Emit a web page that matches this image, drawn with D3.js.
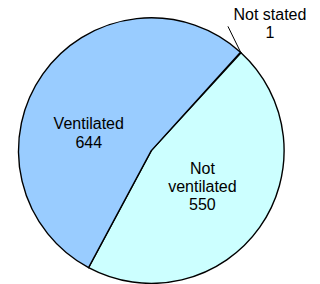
<!DOCTYPE html>
<html>
<head>
<meta charset="utf-8">
<script src="https://cdn.jsdelivr.net/npm/d3@7"></script>
<style>
  body { margin: 0; background: #fff; }
  svg { display: block; font-family: "Liberation Sans", Arial, sans-serif; }
</style>
</head>
<body>
<svg id="chart" width="320" height="284"></svg>
<script>
// data, in the order the slices run clockwise
let categories = ['Not stated', 'Not ventilated', 'Ventilated']
let values = [1, 550, 644]
let colors = ['#ffffff', '#ccffff', '#99ccff']

let cx = 151.3, cy = 150.6, radius = 132.8
let startDeg = 42.2
let rad = d => d * Math.PI / 180

// where each label sits: angle (deg clockwise from top) and radius fraction
let labelPos = {
    'Not stated': { a: 43, r: 1.31 },
    'Not ventilated': { a: 125, r: 0.47 },
    'Ventilated': { a: 286, r: 0.49 }
}

let svg = d3.select('#chart')
let g = svg.append('g').attr('transform', `translate(${cx},${cy})`)

let pie = d3.pie().sort(null).value(d => d.v)
    .startAngle(rad(startDeg)).endAngle(rad(startDeg + 360))
let arcs = pie(categories.map((c, i) => ({ c: c, v: values[i], col: colors[i] })))
let arc = d3.arc().innerRadius(0).outerRadius(radius)

g.selectAll('path.slice')
    .data(arcs)
    .join('path')
    .attr('class', 'slice')
    .attr('d', arc)
    .attr('fill', d => d.data.col)
    .attr('stroke', '#000')
    .attr('stroke-width', 1.4)
    .attr('stroke-linejoin', 'round')

let polar = (a, r) => [Math.sin(rad(a)) * r, -Math.cos(rad(a)) * r]

// leader line for the tiny slice
let tiny = arcs[0]
let mid = (tiny.startAngle + tiny.endAngle) / 2 * 180 / Math.PI
let p0 = polar(mid, radius)
let lp = polar(labelPos['Not stated'].a, radius * labelPos['Not stated'].r)
g.append('line')
    .attr('x1', p0[0]).attr('y1', p0[1])
    .attr('x2', lp[0] - 42).attr('y2', lp[1] + 3)
    .attr('stroke', '#000')
    .attr('stroke-width', 1)

let fs = 16, lh = 18.2
arcs.forEach(d => {
    let name = d.data.c
    let lines = name === 'Not ventilated' ? ['Not', 'ventilated'] : [name]
    lines.push(String(d.data.v))
    let p = polar(labelPos[name].a, radius * labelPos[name].r)
    let y0 = p[1] - (lines.length - 1) * lh / 2 + fs * 0.36
    let t = g.append('text')
        .attr('text-anchor', 'middle')
        .attr('font-size', fs)
        .attr('fill', '#000')
    lines.forEach((s, i) => {
        t.append('tspan').attr('x', p[0]).attr('y', y0 + i * lh).text(s)
    })
})
</script>
</body>
</html>
